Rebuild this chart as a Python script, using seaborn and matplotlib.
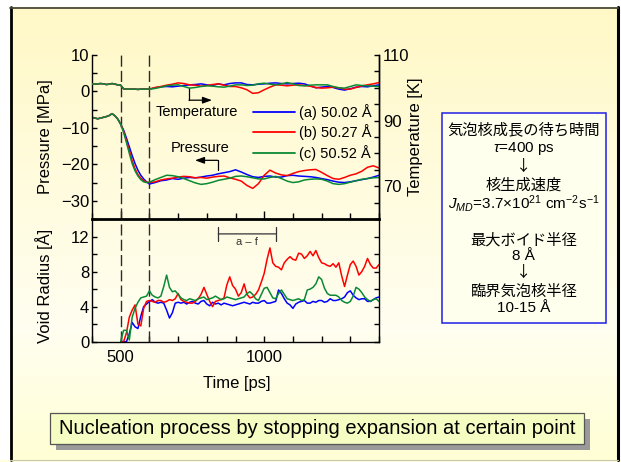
import numpy as np
import pandas as pd
import matplotlib
matplotlib.use("Agg")
import matplotlib.pyplot as plt
from matplotlib.patches import Rectangle
from matplotlib.lines import Line2D
from matplotlib.ticker import MultipleLocator, FixedLocator
import seaborn as sns

# ---------------------------------------------------------------- data
labels = ["(a) 50.02 Å", "(b) 50.27 Å", "(c) 50.52 Å"]
colors = ["#0000ff", "#ff0000", "#0a8a35"]

# time grid for pressure / temperature [ps]
time_pt = np.concatenate([np.arange(400, 601, 10), np.arange(620, 1401, 20)])

pressure_a = [-7.1, -7.3, -7.5, -7.3, -7.1, -6.9, -6.6, -6.1, -6.7, -7.6, -9.0,
              -10.6, -12.8, -15.2, -17.6, -19.8, -21.6, -23.0, -24.0, -24.8, -25.4,
              -25.0, -24.5, -24.3, -23.9, -24.1, -23.8, -23.6, -23.7, -23.5, -23.2,
              -23.0, -22.6, -22.3, -22.0, -21.5, -22.1, -22.8, -23.4, -23.6, -23.3,
              -23.2, -23.5, -23.5, -23.1, -23.0, -23.2, -23.3, -23.4, -23.6, -23.9,
              -24.2, -24.6, -24.9, -25.0, -24.8, -24.5, -24.2, -23.9, -23.5, -23.0]
pressure_b = [-7.1, -7.3, -7.5, -7.3, -7.1, -6.9, -6.6, -6.1, -6.7, -7.6, -9.0,
              -10.9, -13.5, -16.2, -19.0, -21.2, -22.8, -23.8, -24.5, -24.9, -25.0,
              -24.8, -24.3, -24.0, -23.8, -23.5, -23.3, -23.4, -23.7, -23.6, -23.8,
              -23.5, -23.3, -23.2, -23.7, -24.1, -24.6, -25.8, -26.6, -25.3, -23.0,
              -21.6, -22.4, -22.9, -23.1, -22.5, -22.0, -21.7, -21.5, -21.4, -22.2,
              -23.1, -23.9, -24.1, -23.6, -23.0, -22.6, -21.9, -20.8, -20.4, -21.0]
pressure_c = [-7.1, -7.3, -7.5, -7.3, -7.1, -6.9, -6.6, -6.1, -6.7, -7.6, -9.0,
              -11.2, -14.0, -17.0, -19.8, -21.8, -23.2, -24.2, -24.8, -25.0, -24.9,
              -24.2, -23.6, -23.0, -23.1, -23.4, -23.9, -24.5, -25.1, -25.5, -25.3,
              -24.9, -24.4, -24.1, -23.8, -23.3, -23.2, -23.4, -23.7, -24.0, -24.0,
              -23.6, -23.3, -23.9, -24.6, -25.0, -24.8, -24.3, -24.1, -24.0, -24.1,
              -24.6, -25.3, -25.5, -25.3, -24.9, -24.5, -24.1, -23.9, -23.7, -23.6]

temperature_a = [101.2, 101.1, 101.2, 101.3, 101.2, 101.0, 101.1, 101.3, 101.1, 100.9, 100.8,
                 99.7, 99.6, 99.6, 99.6, 99.6, 99.5, 99.6, 99.6, 99.6, 99.6,
                 100.0, 100.3, 100.4, 100.3, 100.5, 100.7, 100.9, 101.0, 101.2, 100.9,
                 100.7, 101.2, 100.9, 101.3, 101.5, 101.5, 101.0, 100.9, 101.1, 101.2,
                 101.4, 101.5, 101.3, 101.2, 101.3, 101.4, 101.2, 100.6, 100.0, 100.2,
                 100.4, 100.1, 99.6, 99.3, 99.7, 100.2, 100.4, 100.3, 100.6, 100.9]
temperature_b = [101.2, 101.1, 101.2, 101.3, 101.2, 101.0, 101.1, 101.3, 101.1, 100.9, 100.8,
                 99.7, 99.6, 99.6, 99.6, 99.6, 99.5, 99.6, 99.6, 99.6, 99.6,
                 100.1, 100.4, 100.8, 101.1, 101.5, 101.3, 100.9, 100.8, 100.5, 100.7,
                 101.0, 101.2, 100.8, 100.4, 100.4, 100.0, 99.4, 98.3, 98.5, 99.4,
                 100.2, 100.9, 100.8, 100.6, 100.8, 100.9, 100.7, 100.5, 100.1, 99.9,
                 100.0, 100.2, 100.0, 99.6, 99.6, 100.1, 100.6, 100.9, 101.2, 101.6]
temperature_c = [101.2, 101.1, 101.2, 101.3, 101.2, 101.0, 101.1, 101.3, 101.1, 100.9, 100.8,
                 99.7, 99.6, 99.6, 99.6, 99.6, 99.5, 99.6, 99.6, 99.6, 99.6,
                 99.8, 100.2, 100.6, 100.8, 100.9, 100.4, 99.9, 100.1, 100.4, 100.6,
                 100.5, 100.3, 100.2, 100.5, 100.9, 100.9, 100.7, 100.8, 101.2, 101.4,
                 101.1, 100.9, 101.2, 101.6, 101.2, 100.7, 100.6, 100.8, 100.9, 100.9,
                 100.9, 100.4, 100.0, 99.9, 100.4, 100.9, 100.7, 100.6, 100.5, 100.4]

# time grid for the void radius [ps]
time_r = np.arange(500, 1401, 10)

radius_a = [0.0, 0.0, 0.0, 0.9, 2.2, 1.7, 1.5, 2.9, 4.0, 4.3,
            4.6, 4.8, 4.5, 4.4, 4.5, 4.4, 3.6, 2.7, 3.3, 4.4,
            4.5, 4.4, 4.5, 4.3, 4.5, 4.6, 4.4, 4.3, 4.6, 4.7,
            4.3, 4.1, 4.5, 4.3, 4.4, 4.2, 4.4, 4.3, 4.2, 4.1,
            4.2, 4.3, 4.4, 4.5, 4.4, 4.3, 4.5, 4.4, 4.4, 4.6,
            4.7, 4.4, 4.4, 4.5, 4.6, 5.9, 5.5, 4.9, 4.4, 4.2,
            3.8, 4.3, 4.5, 4.6, 4.7, 4.4, 4.4, 4.6, 4.5, 4.7,
            4.7, 4.5, 4.6, 4.9, 4.7, 4.7, 4.8, 4.9, 5.1, 5.6,
            5.8, 5.3, 5.0, 4.8, 4.9, 4.9, 4.6, 4.6, 4.8, 5.0,
            5.1]
radius_b = [0.0, 0.0, 1.0, 2.8, 3.6, 4.2, 2.0, 1.8, 3.8, 4.6,
            4.7, 4.6, 4.5, 4.7, 4.7, 4.5, 4.6, 4.8, 4.7, 4.9,
            5.5, 4.8, 4.6, 4.5, 4.4, 4.4, 4.6, 4.9, 5.4, 6.2,
            5.4, 4.6, 4.0, 4.6, 4.7, 4.8, 5.0, 6.5, 7.4, 6.4,
            6.0, 5.2, 5.6, 6.6, 5.4, 5.0, 5.1, 5.4, 5.9, 6.8,
            7.8, 9.4, 10.7, 9.0, 8.6, 8.5, 8.2, 9.0, 9.4, 9.7,
            9.4, 9.3, 10.1, 10.0, 9.5, 9.8, 10.3, 9.8, 10.4, 9.6,
            9.0, 8.9, 8.7, 8.6, 8.9, 8.5, 9.0, 7.5, 6.3, 7.6,
            8.8, 9.2, 8.6, 7.6, 8.0, 8.6, 9.5, 8.8, 8.4, 8.4,
            8.8]
radius_c = [0.0, 1.3, 1.3, 0.2, 2.8, 3.8, 4.5, 5.0, 5.1, 5.2,
            5.8, 5.3, 5.1, 5.0, 5.2, 6.3, 7.6, 6.2, 5.7, 5.8,
            5.4, 5.0, 4.8, 4.7, 4.9, 4.8, 4.7, 4.9, 5.0, 5.1,
            4.8, 4.9, 5.0, 5.2, 5.0, 4.8, 4.9, 5.1, 5.0, 4.9,
            4.8, 4.9, 5.0, 5.1, 5.5, 5.7, 5.4, 4.9, 4.7, 5.4,
            6.1, 6.2, 5.6, 5.0, 4.9, 5.5, 5.9, 5.4, 4.9, 4.8,
            4.7, 4.8, 4.9, 4.7, 4.8, 5.9, 6.0, 6.2, 6.6, 7.4,
            7.1, 6.1, 5.5, 5.3, 5.3, 5.3, 5.1, 4.7, 4.5, 4.4,
            4.6, 5.2, 6.2, 6.0, 5.6, 5.1, 4.8, 4.6, 4.8, 4.9,
            4.6]

# ---------------------------------------------------------------- style
sns.set_style("ticks", {"axes.edgecolor": "black", "xtick.color": "black",
                        "ytick.color": "black", "text.color": "black",
                        "axes.labelcolor": "black"})
plt.rcParams["font.family"] = ["Liberation Sans", "Noto Sans CJK JP", "DejaVu Sans"]
plt.rcParams["mathtext.fontset"] = "custom"
plt.rcParams["mathtext.rm"] = "Liberation Sans"
plt.rcParams["mathtext.it"] = "Liberation Sans:italic"
plt.rcParams["axes.unicode_minus"] = True

W, H = 621, 462
fig = plt.figure(figsize=(W / 100, H / 100), dpi=100, facecolor="white")


def fig_rect(x0, y0, x1, y1):
    return [x0 / W, 1 - y1 / H, (x1 - x0) / W, (y1 - y0) / H]


def long_frame(t, series):
    return pd.DataFrame({"time": np.tile(t, len(series)),
                         "value": np.concatenate(series),
                         "sample": np.repeat(labels, len(t))})


palette = dict(zip(labels, colors))

# ---------------------------------------------------------------- slide background
bg = fig.add_axes([0, 0, 1, 1], zorder=-10)
bg.axis("off")
stop_y = [7, 200, 330, 460]
stop_rgb = np.array([[255, 248, 198], [255, 252, 224], [255, 254, 240], [255, 255, 212]]) / 255
yy = np.arange(7, 461)
grad = np.stack([np.interp(yy, stop_y, stop_rgb[:, i]) for i in range(3)], axis=-1)[:, None, :]
bg.imshow(grad, extent=[10, 618, 460, 7], aspect="auto", interpolation="bilinear")
bg.add_patch(Rectangle((0, 460), W, 3, facecolor="#ffffdc", edgecolor="none"))
bg.plot([10.7, 10.7], [7, 460], color="black", lw=2.0)
bg.plot([617.5, 617.5], [7, 460], color="black", lw=2.2)
bg.plot([10, 618], [7.8, 7.8], color="#4a4a3a", lw=1.3)
bg.plot([10, 618], [460, 460], color="#c8c8b0", lw=0.8)
bg.set_xlim(0, W)
bg.set_ylim(H, 0)

# text panel on the right
bg.add_patch(Rectangle((441.7, 113.3), 164.3, 210, facecolor="#ffffee",
                       edgecolor="#1f1fe6", lw=1.1))
cjk = ["Noto Sans CJK JP", "DejaVu Sans"]
panel_lines = [
    (130.0, "気泡核成長の待ち時間", cjk),
    (148.3, r"$\tau$=400 ps", None),
    (166.7, "↓", cjk),
    (185.0, "核生成速度", cjk),
    (203.5, r"$J_{MD}$=3.7×10$^{21}$ cm$^{-2}$s$^{-1}$", None),
    (240.0, "最大ボイド半径", cjk),
    (255.5, "8 Å", None),
    (272.8, "↓", cjk),
    (291.0, "臨界気泡核半径", cjk),
    (308.3, "10-15 Å", None),
]
for y, s, fam in panel_lines:
    kw = {"family": fam} if fam else {}
    bg.text(523.8, y, s, ha="center", va="center", fontsize=11, **kw)

# caption box with drop shadow
bg.add_patch(Rectangle((55.5, 419.2), 534, 31, facecolor="#9a9a9a", edgecolor="none"))
bg.add_patch(Rectangle((50, 412.7), 534, 31, facecolor="#f5fdc2",
                       edgecolor="#555555", lw=0.9))
bg.text(317, 428.8, "Nucleation process by stopping expansion at certain point",
        ha="center", va="center", fontsize=14.5)

# ---------------------------------------------------------------- axes
ax_p = fig.add_axes(fig_rect(92, 55, 379, 219))
ax_r = fig.add_axes(fig_rect(92, 219, 379, 341.7))
for a in (ax_p, ax_r):
    a.set_facecolor("none")
ax_t = ax_p.twinx()

line_kw = dict(x="time", y="value", hue="sample", hue_order=labels,
               palette=palette, estimator=None, legend=False, lw=1.1)
sns.lineplot(data=long_frame(time_pt, [pressure_a, pressure_b, pressure_c]), ax=ax_p, **line_kw)
sns.lineplot(data=long_frame(time_pt, [temperature_a, temperature_b, temperature_c]), ax=ax_t, **line_kw)
sns.lineplot(data=long_frame(time_r, [radius_a, radius_b, radius_c]), ax=ax_r, **line_kw)

ax_p.set_xlim(400, 1400)
ax_p.set_ylim(-35, 10)
ax_t.set_ylim(60, 110)
ax_r.set_xlim(400, 1400)
ax_r.set_ylim(0, 14)

# stop marks of the expansion
for a in (ax_p, ax_r):
    for t in (500, 600):
        a.axvline(t, color="#2b2b2b", lw=1.0, dashes=(8, 3), zorder=1)

# spines
ax_p.spines["top"].set_visible(False)
ax_p.spines["bottom"].set_linewidth(2.0)
ax_p.spines["left"].set_linewidth(1.0)
ax_p.spines["right"].set_linewidth(1.0)
for side in ("top", "bottom", "left"):
    ax_t.spines[side].set_visible(False)
ax_t.spines["right"].set_linewidth(1.0)
ax_r.spines["top"].set_visible(False)
for side in ("bottom", "left", "right"):
    ax_r.spines[side].set_linewidth(1.0)

# ticks
ax_p.xaxis.set_major_locator(FixedLocator([500, 1000]))
ax_p.xaxis.set_minor_locator(MultipleLocator(100))
ax_p.tick_params(axis="x", which="both", direction="in", bottom=True, top=False,
                 labelbottom=False, width=1.0)
ax_p.tick_params(axis="x", which="major", length=6)
ax_p.tick_params(axis="x", which="minor", length=4)
ax_p.yaxis.set_major_locator(MultipleLocator(10))
ax_p.yaxis.set_minor_locator(MultipleLocator(5))
ax_p.tick_params(axis="y", which="both", direction="in", left=True, right=False,
                 length=3.5, width=1.0, labelsize=12, pad=2)

ax_t.yaxis.set_major_locator(FixedLocator([70, 90, 110]))
ax_t.yaxis.set_minor_locator(MultipleLocator(5))
ax_t.tick_params(axis="y", which="both", direction="in", right=True, left=False,
                 length=3.5, width=1.0, labelsize=12, pad=3)

ax_r.xaxis.set_major_locator(FixedLocator([500, 1000]))
ax_r.xaxis.set_minor_locator(MultipleLocator(100))
ax_r.tick_params(axis="x", which="both", direction="in", bottom=True, top=False,
                 length=4, width=1.0, labelsize=12, pad=6)
ax_r.yaxis.set_major_locator(MultipleLocator(4))
ax_r.yaxis.set_minor_locator(MultipleLocator(2))
ax_r.tick_params(axis="y", which="both", direction="in", left=True, right=True,
                 labelright=False, length=3.5, width=1.0, labelsize=12, pad=2)

# axis labels
ax_p.set_xlabel("")
ax_p.set_ylabel("Pressure [MPa]", fontsize=12)
ax_p.yaxis.set_label_coords(-0.136, 0.5)
ax_t.set_ylabel("Temperature [K]", fontsize=12)
ax_t.yaxis.set_label_coords(1.102, 0.5)
ax_r.set_ylabel("Void Radius [Å]", fontsize=12)
ax_r.yaxis.set_label_coords(-0.136, 0.455)
ax_r.set_xlabel("Time [ps]", fontsize=12)
ax_r.xaxis.set_label_coords(0.504, -0.28)

# curve annotations
arrow_kw = dict(arrowstyle="-|>,head_length=0.55,head_width=0.2", color="black",
                lw=0.9, shrinkA=0, shrinkB=0)
ax_p.text(766, -5.6, "Temperature", ha="center", va="center", fontsize=10.5)
ax_p.plot([738, 738], [1.0, -2.4], color="black", lw=0.9)
ax_p.annotate("", xy=(818, -2.4), xytext=(738, -2.4), arrowprops=arrow_kw)
ax_p.text(778, -15.6, "Pressure", ha="center", va="center", fontsize=10.5)
ax_p.plot([838, 838], [-21.6, -18.9], color="black", lw=0.9)
ax_p.annotate("", xy=(759, -18.9), xytext=(838, -18.9), arrowprops=arrow_kw)

# legend
handles = [Line2D([], [], color=palette[k], lw=1.3) for k in labels]
ax_t.legend(handles, labels, loc="upper left", bbox_to_anchor=(253 / W, 1 - 104 / H),
            bbox_transform=fig.transFigure, frameon=False, fontsize=10.5,
            handlelength=2.9, handletextpad=0.25, labelspacing=0.3,
            borderpad=0, borderaxespad=0)

# waiting interval bracket
ax_r.annotate("", xy=(840, 12.3), xytext=(1040, 12.3),
              arrowprops=dict(arrowstyle="|-|,widthA=0.5,widthB=0.5", color="#333333",
                              lw=0.9, shrinkA=0, shrinkB=0))
ax_r.text(940, 11.35, "a – f", ha="center", va="center", fontsize=8, color="#333333")

fig.savefig("out.png", dpi=100, facecolor="white")
